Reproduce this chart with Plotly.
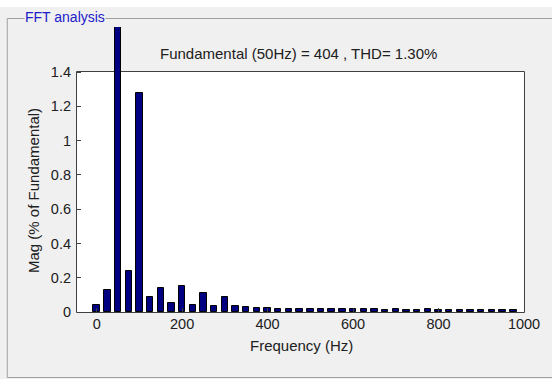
import plotly.graph_objects as go

# ---------------- data ----------------
freq_hz = [0, 25, 50, 75, 100, 125, 150, 175, 200, 225,
           250, 275, 300, 325, 350, 375, 400, 425, 450, 475,
           500, 525, 550, 575, 600, 625, 650, 675, 700, 725,
           750, 775, 800, 825, 850, 875, 900, 925, 950, 975]
mag_pct = [0.040, 0.128, 100.0, 0.237, 1.278, 0.088, 0.142, 0.054, 0.150, 0.041,
           0.109, 0.033, 0.089, 0.035, 0.027, 0.026, 0.022, 0.020, 0.016, 0.019,
           0.019, 0.018, 0.015, 0.019, 0.017, 0.015, 0.015, 0.014, 0.015, 0.014,
           0.014, 0.015, 0.014, 0.014, 0.014, 0.014, 0.013, 0.013, 0.013, 0.013]
x_tick_vals = [0, 200, 400, 600, 800, 1000]
x_tick_text = ["0", "200", "400", "600", "800", "1000"]
y_tick_vals = [0, 0.2, 0.4, 0.6, 0.8, 1.0, 1.2, 1.4]
y_tick_text = ["0", "0.2", "0.4", "0.6", "0.8", "1", "1.2", "1.4"]
title_text = "Fundamental (50Hz) = 404 , THD= 1.30%"
panel_title = "FFT analysis"
x_label = "Frequency (Hz)"
y_label = "Mag (% of Fundamental)"

# ---------------- geometry ----------------
W, H = 552, 379
L, R, T, B = 77, 23, 27, 67
PW, PH = W - L - R, H - T - B
X_RANGE = [-46, 1000]
Y_BOX_TOP = 1.4
BOX_TOP_PX = 72
Y_TOP = Y_BOX_TOP * PH / (H - B - BOX_TOP_PX)


def fx(px):
    return (px - L) / PW


def fy(py):
    return (H - B - py) / PH


FONT = "Liberation Sans, Arial, sans-serif"
TXT = "#202020"
AX = "#404040"

fig = go.Figure()
fig.add_trace(go.Bar(
    x=freq_hz, y=mag_pct, width=15,
    marker=dict(color="#000080", line=dict(color="#000000", width=1)),
    showlegend=False, hoverinfo="x+y",
))

fig.update_layout(
    width=W, height=H, autosize=False,
    margin=dict(l=L, r=R, t=T, b=B, pad=0),
    paper_bgcolor="#ffffff",
    plot_bgcolor="rgba(0,0,0,0)",
    bargap=0,
    font=dict(family=FONT, size=14.5, color=TXT),
    xaxis=dict(range=X_RANGE, tickvals=x_tick_vals, ticktext=x_tick_text,
               ticks="inside", ticklen=4, tickcolor=AX, tickwidth=1,
               showgrid=False, zeroline=False, showline=False,
               ticklabelstandoff=1, fixedrange=True),
    yaxis=dict(range=[0, Y_TOP], tickvals=y_tick_vals, ticktext=y_tick_text,
               ticks="inside", ticklen=4, tickcolor=AX, tickwidth=1,
               showgrid=False, zeroline=False, showline=False,
               ticklabelstandoff=5, fixedrange=True),
    xaxis2=dict(range=X_RANGE, tickvals=x_tick_vals, overlaying="x",
                anchor="free", position=fy(BOX_TOP_PX), side="top",
                ticks="inside", ticklen=4, tickcolor=AX, tickwidth=1,
                showticklabels=False, showgrid=False, zeroline=False,
                showline=False, fixedrange=True),
    yaxis2=dict(range=[0, Y_TOP], tickvals=y_tick_vals, overlaying="y",
                anchor="x", side="right",
                ticks="inside", ticklen=4, tickcolor=AX, tickwidth=1,
                showticklabels=False, showgrid=False, zeroline=False,
                showline=False, fixedrange=True),
)

# panel background and group box
fig.add_shape(type="rect", xref="paper", yref="paper",
              x0=fx(-10), x1=fx(W + 10), y0=fy(7), y1=fy(H + 10),
              fillcolor="#f0f0f0", line=dict(width=0), layer="below")
fig.add_shape(type="rect", xref="paper", yref="paper",
              x0=fx(6.5), x1=fx(W + 10), y0=fy(18.5), y1=fy(377.5),
              fillcolor="rgba(0,0,0,0)", line=dict(color="#a0a0a0", width=1),
              layer="below")
# axes box
fig.add_shape(type="rect", xref="paper", yref="paper",
              x0=fx(L - 0.5), x1=fx(W - R + 0.5), y0=fy(H - B + 0.5),
              y1=fy(BOX_TOP_PX - 0.5),
              fillcolor="#ffffff", line=dict(color=AX, width=1), layer="below")

# texts
fig.add_annotation(text=panel_title, xref="paper", yref="paper",
                   x=fx(23), y=fy(17.5), xanchor="left", yanchor="middle",
                   showarrow=False, bgcolor="#f0f0f0", borderpad=0,
                   font=dict(family=FONT, size=14, color="#2020c8"))
fig.add_annotation(text=title_text, xref="paper", yref="paper",
                   x=fx(300.5), y=fy(54), xanchor="center", yanchor="middle",
                   showarrow=False, font=dict(family=FONT, size=15, color=TXT))
fig.add_annotation(text=x_label, xref="paper", yref="paper",
                   x=fx(304), y=fy(345), xanchor="center", yanchor="middle",
                   showarrow=False, font=dict(family=FONT, size=15, color=TXT))
fig.add_annotation(text=y_label, xref="paper", yref="paper",
                   x=fx(33), y=fy(190.5), xanchor="center", yanchor="middle",
                   textangle=-90, showarrow=False,
                   font=dict(family=FONT, size=15, color=TXT))

fig.write_html("out.html")
